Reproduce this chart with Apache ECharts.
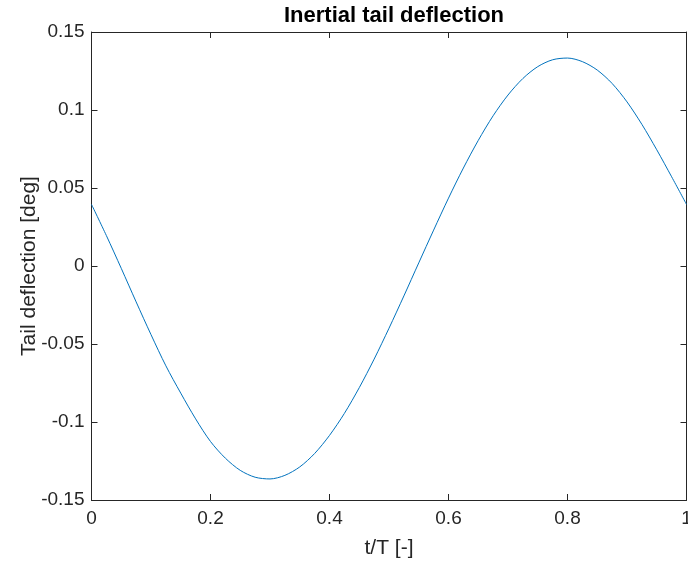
<!DOCTYPE html>
<html>
<head>
<meta charset="utf-8">
<script src="https://cdn.jsdelivr.net/npm/echarts@6/dist/echarts.min.js"></script>
<style>
html,body{margin:0;padding:0;background:#fff;overflow:hidden;width:688px;height:566px;}
#chart{width:688px;height:566px;position:absolute;left:0;top:0;}
</style>
</head>
<body>
<div id="chart"></div>
<script>
// t/T values (normalized time)
var tValues = [0, 0.025, 0.05, 0.075, 0.1, 0.125, 0.15, 0.175, 0.2, 0.225,
  0.25, 0.275, 0.3, 0.325, 0.35, 0.375, 0.4, 0.425, 0.45, 0.475,
  0.5, 0.525, 0.55, 0.575, 0.6, 0.625, 0.65, 0.675, 0.7, 0.725,
  0.75, 0.775, 0.8, 0.825, 0.85, 0.875, 0.9, 0.925, 0.95, 0.975, 1];
// Tail deflection [deg]
var deflection = [0.0395, 0.0195, -0.0015, -0.0230, -0.0440, -0.0640, -0.0815, -0.0980, -0.1125, -0.1232,
  -0.1310, -0.1354, -0.1365, -0.1342, -0.1288, -0.1202, -0.1086, -0.0945, -0.0780, -0.0597,
  -0.0399, -0.0192, 0.0020, 0.0230, 0.0435, 0.0628, 0.0805, 0.0963, 0.1096, 0.1202,
  0.1278, 0.1322, 0.1333, 0.1310, 0.1256, 0.1170, 0.1052, 0.0908, 0.0745, 0.0572, 0.0395];
var xTicks = [0, 0.2, 0.4, 0.6, 0.8, 1];
var yTicks = [-0.15, -0.1, -0.05, 0, 0.05, 0.1, 0.15];
var titleText = 'Inertial tail deflection';
var xName = 't/T [-]';
var yName = 'Tail deflection [deg]';

var pts = tValues.map(function (t, i) { return [t, deflection[i]]; });
var font = '"Liberation Sans", Arial, Helvetica, sans-serif';
var axisColor = '#262626';

function baseAxis(extra) {
  var a = {
    type: 'value',
    axisLine: { show: true, onZero: false, lineStyle: { color: axisColor, width: 1 } },
    axisTick: { show: true, inside: true, length: 6, lineStyle: { color: axisColor, width: 1 } },
    splitLine: { show: false },
    axisLabel: { show: false }
  };
  for (var k in extra) a[k] = extra[k];
  return a;
}

var chart = echarts.init(document.getElementById('chart'), null, { renderer: 'canvas', width: 688, height: 566 });
chart.setOption({
  animation: false,
  backgroundColor: '#ffffff',
  title: {
    text: titleText,
    left: 389, top: 0, textAlign: 'center',
    textStyle: { fontFamily: font, fontWeight: 'bold', fontSize: 22, color: '#000' }
  },
  grid: { left: 91.5, right: 1.5, top: 32, bottom: 66, containLabel: false, outerBoundsMode: 'none' },
  xAxis: [
    baseAxis({
      position: 'bottom', min: xTicks[0], max: xTicks[xTicks.length - 1], interval: 0.2,
      name: xName, nameLocation: 'middle', nameGap: 38, nameMoveOverlap: false,
      nameTextStyle: { fontFamily: font, fontSize: 21, color: axisColor },
      axisLabel: { show: true, margin: 9, fontFamily: font, fontSize: 19, color: axisColor }
    }),
    baseAxis({ position: 'top', min: xTicks[0], max: xTicks[xTicks.length - 1], interval: 0.2 })
  ],
  yAxis: [
    baseAxis({
      position: 'left', min: yTicks[0], max: yTicks[yTicks.length - 1], interval: 0.05,
      name: yName, nameLocation: 'middle', nameGap: 52, nameMoveOverlap: false,
      nameTextStyle: { fontFamily: font, fontSize: 21, color: axisColor },
      axisLabel: { show: true, margin: 7, fontFamily: font, fontSize: 19, color: axisColor }
    }),
    baseAxis({ position: 'right', min: yTicks[0], max: yTicks[yTicks.length - 1], interval: 0.05 })
  ],
  series: [{
    type: 'line',
    xAxisIndex: 0, yAxisIndex: 0,
    data: pts,
    smooth: 0.3,
    showSymbol: false,
    lineStyle: { color: '#0072BD', width: 1 },
    itemStyle: { color: '#0072BD' }
  }]
});
</script>
</body>
</html>
